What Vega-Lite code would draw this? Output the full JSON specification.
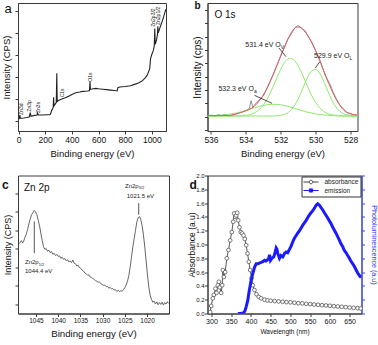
{
 "$schema": "https://vega.github.io/schema/vega-lite/v6.json",
 "padding": {"left": 0, "top": 0, "right": 0, "bottom": 0},
 "bounds": "flush",
 "columns": 2,
 "align": "each",
 "spacing": {"row": 44.5, "column": 38.5},
 "resolve": {"scale": {"color": "independent"}, "legend": {"color": "independent"}},
 "config": {
  "font": "Liberation Sans",
  "view": {"stroke": "#3a3a3a", "strokeWidth": 1},
  "axis": {"grid": false, "domainColor": "#3a3a3a", "tickColor": "#3a3a3a", "tickSize": 3, "labelColor": "#111", "titleColor": "#111", "titleFontWeight": "normal", "labelPadding": 1, "labelOverlap": false, "labelFlush": false}
 },
 "datasets": {
  "a_spec": [
   {"e":0,"v":0.10},{"e":5,"v":0.12},{"e":10,"v":0.28},{"e":14,"v":0.14},{"e":25,"v":0.14},{"e":40,"v":0.15},{"e":60,"v":0.17},{"e":80,"v":0.20},{"e":88,"v":0.40},{"e":94,"v":0.23},{"e":120,"v":0.27},{"e":138,"v":0.29},{"e":143,"v":0.38},{"e":148,"v":0.29},{"e":180,"v":0.29},{"e":210,"v":0.30},{"e":235,"v":0.30},{"e":242,"v":0.36},{"e":248,"v":0.50},{"e":255,"v":0.55},{"e":260,"v":0.64},{"e":263,"v":1.09},{"e":266,"v":0.70},{"e":275,"v":0.78},{"e":283,"v":0.85},{"e":287,"v":2.18},{"e":290,"v":0.90},{"e":300,"v":0.95},{"e":320,"v":1.00},{"e":350,"v":1.07},{"e":380,"v":1.15},{"e":400,"v":1.22},{"e":430,"v":1.30},{"e":460,"v":1.33},{"e":480,"v":1.36},{"e":500,"v":1.37},{"e":520,"v":1.38},{"e":532,"v":1.40},{"e":536,"v":1.82},{"e":539,"v":1.45},{"e":560,"v":1.48},{"e":580,"v":1.50},{"e":600,"v":1.48},{"e":630,"v":1.46},{"e":660,"v":1.44},{"e":690,"v":1.42},{"e":720,"v":1.40},{"e":740,"v":1.38},{"e":745,"v":1.53},{"e":760,"v":1.56},{"e":800,"v":1.58},{"e":840,"v":1.62},{"e":870,"v":1.68},{"e":900,"v":1.74},{"e":930,"v":1.85},{"e":950,"v":1.98},{"e":965,"v":2.10},{"e":975,"v":2.25},{"e":984,"v":2.40},{"e":990,"v":2.85},{"e":1000,"v":3.05},{"e":1010,"v":3.20},{"e":1018,"v":3.42},{"e":1022,"v":4.22},{"e":1025,"v":3.50},{"e":1035,"v":3.70},{"e":1042,"v":3.95},{"e":1045,"v":4.32},{"e":1048,"v":4.02},{"e":1060,"v":4.25},{"e":1075,"v":4.50},{"e":1090,"v":4.78},{"e":1100,"v":5.00},{"e":1105,"v":5.10}
  ],
  "a_labels": [
   {"e":20,"v":0.29,"t":"Zn3d"},{"e":82,"v":0.44,"t":"Zn3p"},{"e":145,"v":0.38,"t":"Zn3s"},{"e":325,"v":1.09,"t":"C1s"},{"e":538,"v":1.80,"t":"O1s"},{"e":1010,"v":4.30,"t":"Zn2p3/2"},{"e":1043,"v":4.38,"t":"Zn2p1/2"}
  ],
  "b_raw": [
   {"e":536.2,"v":1.05},{"e":536.0,"v":1.12},{"e":535.8,"v":1.02},{"e":535.6,"v":1.15},{"e":535.4,"v":1.08},{"e":535.2,"v":1.18},{"e":535.0,"v":1.05},{"e":534.8,"v":1.12},{"e":534.6,"v":1.20},{"e":534.4,"v":1.28},{"e":534.2,"v":1.35},{"e":534.0,"v":1.45},{"e":533.8,"v":1.62},{"e":533.7,"v":2.20},{"e":533.6,"v":1.70},{"e":533.4,"v":2.05},{"e":533.2,"v":2.30},{"e":533.0,"v":2.55},{"e":532.8,"v":3.10},{"e":532.6,"v":3.70},{"e":532.4,"v":4.25},{"e":532.2,"v":4.90},{"e":532.0,"v":5.60},{"e":531.8,"v":6.15},{"e":531.6,"v":6.80},{"e":531.4,"v":7.20},{"e":531.2,"v":7.65},{"e":531.0,"v":7.85},{"e":530.8,"v":7.60},{"e":530.6,"v":7.45},{"e":530.4,"v":6.95},{"e":530.2,"v":6.55},{"e":530.0,"v":5.95},{"e":529.8,"v":5.40},{"e":529.6,"v":4.65},{"e":529.4,"v":4.00},{"e":529.2,"v":3.50},{"e":529.0,"v":2.85},{"e":528.8,"v":2.30},{"e":528.6,"v":1.85},{"e":528.4,"v":1.60},{"e":528.2,"v":1.30},{"e":528.0,"v":1.25},{"e":527.8,"v":1.10},{"e":527.65,"v":1.15}
  ],
  "b_fit": [
   {"e":536.2,"v":1.08},{"e":535.0,"v":1.09},{"e":534.5,"v":1.22},{"e":534.1,"v":1.40},{"e":533.8,"v":1.55},{"e":533.5,"v":1.80},{"e":533.2,"v":2.25},{"e":532.9,"v":2.85},{"e":532.6,"v":3.65},{"e":532.3,"v":4.60},{"e":532.0,"v":5.55},{"e":531.7,"v":6.50},{"e":531.4,"v":7.30},{"e":531.1,"v":7.72},{"e":530.9,"v":7.72},{"e":530.6,"v":7.35},{"e":530.3,"v":6.75},{"e":530.0,"v":5.95},{"e":529.7,"v":5.00},{"e":529.4,"v":3.95},{"e":529.1,"v":3.05},{"e":528.8,"v":2.25},{"e":528.5,"v":1.65},{"e":528.2,"v":1.30},{"e":527.9,"v":1.18},{"e":527.65,"v":1.12}
  ],
  "b_comp": [
   {"c":"g1","e":536.2,"v":1.05},{"c":"g1","e":535.0,"v":1.05},{"c":"g1","e":534.5,"v":1.06},{"c":"g1","e":534.0,"v":1.10},{"c":"g1","e":533.75,"v":1.16},{"c":"g1","e":533.5,"v":1.29},{"c":"g1","e":533.25,"v":1.51},{"c":"g1","e":533.0,"v":1.87},{"c":"g1","e":532.75,"v":2.39},{"c":"g1","e":532.5,"v":3.07},{"c":"g1","e":532.25,"v":3.83},{"c":"g1","e":532.0,"v":4.56},{"c":"g1","e":531.75,"v":5.12},{"c":"g1","e":531.5,"v":5.38},{"c":"g1","e":531.25,"v":5.26},{"c":"g1","e":531.0,"v":4.81},{"c":"g1","e":530.75,"v":4.13},{"c":"g1","e":530.5,"v":3.37},{"c":"g1","e":530.25,"v":2.65},{"c":"g1","e":530.0,"v":2.06},{"c":"g1","e":529.75,"v":1.64},{"c":"g1","e":529.5,"v":1.36},{"c":"g1","e":529.25,"v":1.20},{"c":"g1","e":529.0,"v":1.12},{"c":"g1","e":528.5,"v":1.06},{"c":"g1","e":528.0,"v":1.05},{"c":"g1","e":527.6,"v":1.05},
   {"c":"g2","e":536.2,"v":1.05},{"c":"g2","e":533.0,"v":1.05},{"c":"g2","e":532.5,"v":1.05},{"c":"g2","e":532.25,"v":1.07},{"c":"g2","e":532.0,"v":1.10},{"c":"g2","e":531.75,"v":1.19},{"c":"g2","e":531.5,"v":1.39},{"c":"g2","e":531.25,"v":1.76},{"c":"g2","e":531.0,"v":2.33},{"c":"g2","e":530.75,"v":3.08},{"c":"g2","e":530.5,"v":3.85},{"c":"g2","e":530.25,"v":4.40},{"c":"g2","e":530.0,"v":4.54},{"c":"g2","e":529.75,"v":4.22},{"c":"g2","e":529.5,"v":3.55},{"c":"g2","e":529.25,"v":2.77},{"c":"g2","e":529.0,"v":2.08},{"c":"g2","e":528.75,"v":1.59},{"c":"g2","e":528.5,"v":1.29},{"c":"g2","e":528.25,"v":1.15},{"c":"g2","e":528.0,"v":1.08},{"c":"g2","e":527.6,"v":1.05},
   {"c":"g3","e":536.2,"v":1.06},{"c":"g3","e":535.5,"v":1.10},{"c":"g3","e":535.0,"v":1.17},{"c":"g3","e":534.5,"v":1.29},{"c":"g3","e":534.0,"v":1.46},{"c":"g3","e":533.5,"v":1.67},{"c":"g3","e":533.0,"v":1.84},{"c":"g3","e":532.5,"v":1.93},{"c":"g3","e":532.0,"v":1.89},{"c":"g3","e":531.5,"v":1.74},{"c":"g3","e":531.0,"v":1.54},{"c":"g3","e":530.5,"v":1.35},{"c":"g3","e":530.0,"v":1.21},{"c":"g3","e":529.5,"v":1.12},{"c":"g3","e":529.0,"v":1.08},{"c":"g3","e":528.5,"v":1.06},{"c":"g3","e":527.6,"v":1.05}
  ],
  "b_text": [
   {"e":532.0,"v":6.26,"t":"531.4 eV O","s":"V"},{"e":528.06,"v":5.4,"t":"529.9 eV O","s":"L"},{"e":533.54,"v":2.93,"t":"532.3 eV O","s":"a"}
  ],
  "b_lines": [
   {"e":532.1,"e2":531.7,"v":6.15,"v2":5.5},{"e":529.77,"e2":530.03,"v":5.12,"v2":4.63},{"e":533.5,"e2":532.5,"v":2.6,"v2":2.0}
  ],
  "c_spec": [
   {"e":1048.8,"v":3.30},{"e":1048.5,"v":3.36},{"e":1048.3,"v":3.45},{"e":1048.0,"v":3.32},{"e":1047.8,"v":3.40},{"e":1047.5,"v":3.62},{"e":1047.2,"v":3.78},{"e":1046.9,"v":4.05},{"e":1046.6,"v":4.35},{"e":1046.3,"v":4.62},{"e":1046.0,"v":4.85},{"e":1045.7,"v":4.95},{"e":1045.4,"v":5.08},{"e":1045.1,"v":5.00},{"e":1044.8,"v":4.85},{"e":1044.5,"v":4.55},{"e":1044.2,"v":4.25},{"e":1043.9,"v":3.85},{"e":1043.6,"v":3.45},{"e":1043.3,"v":3.12},{"e":1043.0,"v":2.98},{"e":1042.7,"v":3.02},{"e":1042.4,"v":2.88},{"e":1042.1,"v":2.93},{"e":1041.8,"v":2.80},{"e":1041.5,"v":2.86},{"e":1041.2,"v":2.72},{"e":1040.9,"v":2.76},{"e":1040.6,"v":2.64},{"e":1040.3,"v":2.70},{"e":1040.0,"v":2.60},{"e":1039.7,"v":2.62},{"e":1039.4,"v":2.50},{"e":1039.1,"v":2.55},{"e":1038.8,"v":2.44},{"e":1038.5,"v":2.48},{"e":1038.2,"v":2.36},{"e":1037.9,"v":2.42},{"e":1037.6,"v":2.30},{"e":1037.3,"v":2.35},{"e":1037.0,"v":2.26},{"e":1036.7,"v":2.40},{"e":1036.4,"v":2.22},{"e":1036.1,"v":2.20},{"e":1035.8,"v":2.08},{"e":1035.5,"v":2.12},{"e":1035.2,"v":1.98},{"e":1034.9,"v":1.95},{"e":1034.6,"v":1.85},{"e":1034.3,"v":1.80},{"e":1034.0,"v":1.70},{"e":1033.7,"v":1.66},{"e":1033.4,"v":1.58},{"e":1033.1,"v":1.60},{"e":1032.8,"v":1.48},{"e":1032.5,"v":1.45},{"e":1032.2,"v":1.40},{"e":1031.9,"v":1.35},{"e":1031.6,"v":1.28},{"e":1031.3,"v":1.26},{"e":1031.0,"v":1.20},{"e":1030.7,"v":1.22},{"e":1030.4,"v":1.12},{"e":1030.1,"v":1.08},{"e":1029.8,"v":1.04},{"e":1029.5,"v":1.05},{"e":1029.2,"v":0.96},{"e":1028.9,"v":0.98},{"e":1028.6,"v":0.88},{"e":1028.3,"v":0.92},{"e":1028.0,"v":0.84},{"e":1027.7,"v":0.86},{"e":1027.4,"v":0.78},{"e":1027.1,"v":0.80},{"e":1026.8,"v":0.70},{"e":1026.5,"v":0.76},{"e":1026.2,"v":0.70},{"e":1025.9,"v":0.74},{"e":1025.6,"v":0.72},{"e":1025.3,"v":0.80},{"e":1025.0,"v":0.90},{"e":1024.7,"v":1.05},{"e":1024.4,"v":1.25},{"e":1024.1,"v":1.55},{"e":1023.8,"v":2.00},{"e":1023.5,"v":2.55},{"e":1023.2,"v":3.10},{"e":1022.9,"v":3.55},{"e":1022.6,"v":4.00},{"e":1022.3,"v":4.45},{"e":1022.0,"v":4.68},{"e":1021.7,"v":4.75},{"e":1021.4,"v":4.58},{"e":1021.1,"v":4.25},{"e":1020.8,"v":3.75},{"e":1020.5,"v":3.10},{"e":1020.2,"v":2.35},{"e":1019.9,"v":1.60},{"e":1019.6,"v":0.95},{"e":1019.3,"v":0.50},{"e":1019.0,"v":0.28},{"e":1018.7,"v":0.12},{"e":1018.4,"v":0.18},{"e":1018.1,"v":0.02},{"e":1017.8,"v":0.14},{"e":1017.5,"v":-0.02},{"e":1017.2,"v":0.10},{"e":1016.9,"v":0.00},{"e":1016.6,"v":0.12},{"e":1016.3,"v":-0.03},{"e":1016.0,"v":0.10},{"e":1015.7,"v":0.02},{"e":1015.4,"v":0.15},{"e":1015.2,"v":0.06}
  ],
  "c_small": [
   {"e":1047.48,"v":2.16,"t":"Zn2p"},{"e":1047.48,"v":1.70,"t":"1044.4 eV"},{"e":1024.95,"v":6.30,"t":"Zn2p"},{"e":1024.57,"v":5.76,"t":"1021.5 eV"}
  ],
  "c_sub": [
   {"e":1044.4,"v":2.16,"t":"1/2"},{"e":1021.87,"v":6.30,"t":"3/2"}
  ],
  "c_lines": [
   {"e":1045.38,"v":4.49,"v2":2.77},{"e":1021.87,"v":5.48,"v2":4.85}
  ],
  "d_abs": [
   {"w":296.8,"v":0.02,"s":"absorbance"},{"w":299.3,"v":0.11,"s":"absorbance"},{"w":303.5,"v":0.22,"s":"absorbance"},{"w":306,"v":0.27,"s":"absorbance"},{"w":310.3,"v":0.36,"s":"absorbance"},{"w":312.8,"v":0.30,"s":"absorbance"},{"w":316.2,"v":0.41,"s":"absorbance"},{"w":318.7,"v":0.46,"s":"absorbance"},{"w":321.2,"v":0.38,"s":"absorbance"},{"w":324.6,"v":0.30,"s":"absorbance"},{"w":327.2,"v":0.41,"s":"absorbance"},{"w":328.8,"v":0.63,"s":"absorbance"},{"w":331.3,"v":0.53,"s":"absorbance"},{"w":334.8,"v":0.60,"s":"absorbance"},{"w":338.9,"v":0.80,"s":"absorbance"},{"w":343.2,"v":0.92,"s":"absorbance"},{"w":347.4,"v":1.06,"s":"absorbance"},{"w":351.6,"v":1.18,"s":"absorbance"},{"w":355,"v":1.33,"s":"absorbance"},{"w":357.6,"v":1.45,"s":"absorbance"},{"w":360.1,"v":1.40,"s":"absorbance"},{"w":362.6,"v":1.42,"s":"absorbance"},{"w":365.2,"v":1.46,"s":"absorbance"},{"w":367.7,"v":1.35,"s":"absorbance"},{"w":371,"v":1.25,"s":"absorbance"},{"w":374.4,"v":1.18,"s":"absorbance"},{"w":377.8,"v":1.16,"s":"absorbance"},{"w":381.1,"v":1.13,"s":"absorbance"},{"w":384.4,"v":1.08,"s":"absorbance"},{"w":388,"v":0.99,"s":"absorbance"},{"w":391.3,"v":0.87,"s":"absorbance"},{"w":394.6,"v":0.75,"s":"absorbance"},{"w":398.1,"v":0.63,"s":"absorbance"},{"w":401.4,"v":0.51,"s":"absorbance"},{"w":404.7,"v":0.41,"s":"absorbance"},{"w":409,"v":0.34,"s":"absorbance"},{"w":414,"v":0.28,"s":"absorbance"},{"w":419.9,"v":0.24,"s":"absorbance"},{"w":425.9,"v":0.22,"s":"absorbance"},{"w":434.3,"v":0.20,"s":"absorbance"},{"w":442,"v":0.19,"s":"absorbance"},{"w":450,"v":0.185,"s":"absorbance"},{"w":460,"v":0.18,"s":"absorbance"},{"w":470,"v":0.175,"s":"absorbance"},{"w":480,"v":0.17,"s":"absorbance"},{"w":490,"v":0.165,"s":"absorbance"},{"w":500,"v":0.162,"s":"absorbance"},{"w":510,"v":0.156,"s":"absorbance"},{"w":520,"v":0.15,"s":"absorbance"},{"w":530,"v":0.147,"s":"absorbance"},{"w":540,"v":0.14,"s":"absorbance"},{"w":550,"v":0.136,"s":"absorbance"},{"w":560,"v":0.13,"s":"absorbance"},{"w":570,"v":0.126,"s":"absorbance"},{"w":580,"v":0.12,"s":"absorbance"},{"w":590,"v":0.117,"s":"absorbance"},{"w":600,"v":0.112,"s":"absorbance"},{"w":610,"v":0.106,"s":"absorbance"},{"w":620,"v":0.101,"s":"absorbance"},{"w":630,"v":0.097,"s":"absorbance"},{"w":640,"v":0.092,"s":"absorbance"},{"w":650,"v":0.087,"s":"absorbance"},{"w":660,"v":0.082,"s":"absorbance"},{"w":670,"v":0.077,"s":"absorbance"},{"w":678,"v":0.073,"s":"absorbance"}
  ],
  "d_em": [
   {"w":366.8,"v":0.0,"s":"emission"},{"w":375,"v":0.0,"s":"emission"},{"w":382,"v":0.01,"s":"emission"},{"w":385,"v":0.04,"s":"emission"},{"w":388,"v":0.10,"s":"emission"},{"w":392,"v":0.19,"s":"emission"},{"w":396,"v":0.34,"s":"emission"},{"w":400.6,"v":0.48,"s":"emission"},{"w":404.7,"v":0.58,"s":"emission"},{"w":409,"v":0.67,"s":"emission"},{"w":413.3,"v":0.72,"s":"emission"},{"w":417.3,"v":0.72,"s":"emission"},{"w":421,"v":0.73,"s":"emission"},{"w":425.9,"v":0.74,"s":"emission"},{"w":430,"v":0.75,"s":"emission"},{"w":434.3,"v":0.77,"s":"emission"},{"w":438,"v":0.76,"s":"emission"},{"w":442.7,"v":0.78,"s":"emission"},{"w":445,"v":0.80,"s":"emission"},{"w":447,"v":0.85,"s":"emission"},{"w":449.5,"v":0.77,"s":"emission"},{"w":453,"v":0.80,"s":"emission"},{"w":457.8,"v":0.82,"s":"emission"},{"w":461,"v":0.88,"s":"emission"},{"w":463.9,"v":0.95,"s":"emission"},{"w":466,"v":0.93,"s":"emission"},{"w":468,"v":0.87,"s":"emission"},{"w":472.3,"v":0.80,"s":"emission"},{"w":476,"v":0.84,"s":"emission"},{"w":478.1,"v":0.83,"s":"emission"},{"w":480.7,"v":0.82,"s":"emission"},{"w":485,"v":0.87,"s":"emission"},{"w":489.2,"v":0.89,"s":"emission"},{"w":493,"v":0.88,"s":"emission"},{"w":497.6,"v":0.93,"s":"emission"},{"w":502,"v":0.98,"s":"emission"},{"w":506,"v":1.04,"s":"emission"},{"w":510,"v":1.09,"s":"emission"},{"w":514.6,"v":1.13,"s":"emission"},{"w":518,"v":1.16,"s":"emission"},{"w":522.9,"v":1.20,"s":"emission"},{"w":527,"v":1.24,"s":"emission"},{"w":531.3,"v":1.28,"s":"emission"},{"w":535,"v":1.31,"s":"emission"},{"w":539.9,"v":1.35,"s":"emission"},{"w":544,"v":1.39,"s":"emission"},{"w":548.2,"v":1.43,"s":"emission"},{"w":552,"v":1.46,"s":"emission"},{"w":556.6,"v":1.49,"s":"emission"},{"w":561,"v":1.53,"s":"emission"},{"w":565.2,"v":1.57,"s":"emission"},{"w":569.2,"v":1.59,"s":"emission"},{"w":573.5,"v":1.57,"s":"emission"},{"w":577,"v":1.54,"s":"emission"},{"w":581.9,"v":1.50,"s":"emission"},{"w":586,"v":1.46,"s":"emission"},{"w":590.5,"v":1.42,"s":"emission"},{"w":595,"v":1.38,"s":"emission"},{"w":598.9,"v":1.34,"s":"emission"},{"w":603,"v":1.30,"s":"emission"},{"w":607.2,"v":1.25,"s":"emission"},{"w":611,"v":1.21,"s":"emission"},{"w":615.8,"v":1.16,"s":"emission"},{"w":620,"v":1.11,"s":"emission"},{"w":624.2,"v":1.06,"s":"emission"},{"w":628,"v":1.01,"s":"emission"},{"w":632.5,"v":0.97,"s":"emission"},{"w":636,"v":0.92,"s":"emission"},{"w":641.1,"v":0.88,"s":"emission"},{"w":645,"v":0.84,"s":"emission"},{"w":649.5,"v":0.80,"s":"emission"},{"w":653,"v":0.76,"s":"emission"},{"w":657.8,"v":0.72,"s":"emission"},{"w":662,"v":0.68,"s":"emission"},{"w":666.4,"v":0.63,"s":"emission"},{"w":670,"v":0.59,"s":"emission"},{"w":674.8,"v":0.55,"s":"emission"},{"w":679,"v":0.52,"s":"emission"}
  ]
 },
 "concat": [
  {
   "width": 148, "height": 128,
   "layer": [
    {"data": {"name": "a_spec"}, "mark": {"type": "line", "color": "#222", "strokeWidth": 1.1, "clip": true},
     "encoding": {
      "x": {"field": "e", "type": "quantitative", "title": "Binding energy (eV)", "scale": {"domain": [-4, 1106], "nice": false, "zero": false}, "axis": {"values": [0, 200, 400, 600, 800, 1000], "tickCount": 40, "format": "d", "labelOverlap": false, "labelFontSize": 8.5, "titleFontSize": 9.5, "titlePadding": 5}},
      "y": {"field": "v", "type": "quantitative", "title": "Intensity (CPS)", "scale": {"domain": [-0.44, 5.38], "nice": false, "zero": false}, "axis": {"values": [0, 1, 2, 3, 4, 5], "tickCount": 40, "labels": false, "titleFontSize": 9.5, "titleX": -9, "titleBaseline": "alphabetic"}}
     }},
    {"data": {"name": "a_labels"}, "mark": {"type": "text", "angle": 270, "align": "left", "baseline": "middle", "fontSize": 5, "color": "#222"},
     "encoding": {
      "x": {"field": "e", "type": "quantitative", "title": "Binding energy (eV)"},
      "y": {"field": "v", "type": "quantitative", "title": "Intensity (CPS)"},
      "text": {"field": "t"}
     }},
    {"data": {"values": [{"e": -105, "v": 4.92, "t": "a"}]}, "mark": {"type": "text", "align": "left", "baseline": "alphabetic", "fontSize": 13, "color": "#111"},
     "encoding": {
      "x": {"field": "e", "type": "quantitative", "title": "Binding energy (eV)"},
      "y": {"field": "v", "type": "quantitative", "title": "Intensity (CPS)"},
      "text": {"field": "t"}
     }}
   ]
  },
  {
   "width": 150, "height": 128,
   "layer": [
    {"data": {"name": "b_raw"}, "mark": {"type": "line", "color": "#777", "strokeWidth": 0.8, "clip": true},
     "encoding": {
      "x": {"field": "e", "type": "quantitative", "title": "Binding energy (eV)", "scale": {"domain": [536.2, 527.6], "nice": false, "zero": false}, "axis": {"values": [536, 534, 532, 530, 528], "tickCount": 40, "format": "d", "labelOverlap": false, "labelFontSize": 8.5, "titleFontSize": 9.5, "titlePadding": 5}},
      "y": {"field": "v", "type": "quantitative", "title": "Intensity (cps)", "scale": {"domain": [-0.075, 9.53], "nice": false, "zero": false}, "axis": {"values": [0, 1, 2, 3, 4, 5, 6, 7, 8, 9], "tickCount": 40, "labels": false, "titleFontSize": 10, "titleX": -7.5, "titleBaseline": "alphabetic"}}
     }},
    {"data": {"name": "b_comp"}, "mark": {"type": "line", "color": "#8ee86c", "strokeWidth": 1, "interpolate": "monotone", "clip": true},
     "encoding": {
      "x": {"field": "e", "type": "quantitative", "title": "Binding energy (eV)"},
      "y": {"field": "v", "type": "quantitative", "title": "Intensity (cps)"},
      "detail": {"field": "c"}
     }},
    {"data": {"name": "b_fit"}, "mark": {"type": "line", "color": "#dd5c5c", "strokeWidth": 1, "interpolate": "monotone", "clip": true},
     "encoding": {
      "x": {"field": "e", "type": "quantitative", "title": "Binding energy (eV)"},
      "y": {"field": "v", "type": "quantitative", "title": "Intensity (cps)"}
     }},
    {"data": {"name": "b_lines"}, "mark": {"type": "rule", "color": "#222", "strokeWidth": 0.8},
     "encoding": {
      "x": {"field": "e", "type": "quantitative", "title": "Binding energy (eV)"},
      "x2": {"field": "e2"},
      "y": {"field": "v", "type": "quantitative", "title": "Intensity (cps)"},
      "y2": {"field": "v2"}
     }},
    {"data": {"name": "b_text"}, "mark": {"type": "text", "align": "right", "baseline": "alphabetic", "fontSize": 7, "color": "#222"},
     "encoding": {
      "x": {"field": "e", "type": "quantitative", "title": "Binding energy (eV)"},
      "y": {"field": "v", "type": "quantitative", "title": "Intensity (cps)"},
      "text": {"field": "t"}
     }},
    {"data": {"name": "b_text"}, "mark": {"type": "text", "align": "left", "baseline": "alphabetic", "fontSize": 5, "dy": 2, "color": "#222"},
     "encoding": {
      "x": {"field": "e", "type": "quantitative", "title": "Binding energy (eV)"},
      "y": {"field": "v", "type": "quantitative", "title": "Intensity (cps)"},
      "text": {"field": "s"}
     }},
    {"data": {"values": [{"e": 535.8, "v": 8.4, "t": "O 1s"}]}, "mark": {"type": "text", "align": "left", "baseline": "alphabetic", "fontSize": 10, "color": "#111"},
     "encoding": {
      "x": {"field": "e", "type": "quantitative", "title": "Binding energy (eV)"},
      "y": {"field": "v", "type": "quantitative", "title": "Intensity (cps)"},
      "text": {"field": "t"}
     }},
    {"data": {"values": [{"e": 536.95, "v": 9.11, "t": "b"}]}, "mark": {"type": "text", "align": "left", "baseline": "alphabetic", "fontSize": 10, "fontWeight": "bold", "color": "#111"},
     "encoding": {
      "x": {"field": "e", "type": "quantitative", "title": "Binding energy (eV)"},
      "y": {"field": "v", "type": "quantitative", "title": "Intensity (cps)"},
      "text": {"field": "t"}
     }}
   ]
  },
  {
   "width": 151, "height": 138,
   "layer": [
    {"data": {"name": "c_spec"}, "mark": {"type": "line", "color": "#555", "strokeWidth": 0.9, "clip": true},
     "encoding": {
      "x": {"field": "e", "type": "quantitative", "title": "Binding energy (eV)", "scale": {"domain": [1049.05, 1015.05], "nice": false, "zero": false}, "axis": {"values": [1045, 1040, 1035, 1030, 1025, 1020], "tickCount": 40, "format": "d", "labelOverlap": false, "labelFontSize": 6.5, "titleFontSize": 9.7, "titlePadding": 4}},
      "y": {"field": "v", "type": "quantitative", "title": "Intensity (CPS)", "scale": {"domain": [-0.49, 6.97], "nice": false, "zero": false}, "axis": {"values": [0, 1, 2, 3, 4, 5, 6], "tickCount": 40, "labels": false, "titleFontSize": 9, "titleX": -7.5, "titleBaseline": "alphabetic"}}
     }},
    {"data": {"name": "c_lines"}, "mark": {"type": "rule", "color": "#444", "strokeWidth": 0.9},
     "encoding": {
      "x": {"field": "e", "type": "quantitative", "title": "Binding energy (eV)"},
      "y": {"field": "v", "type": "quantitative", "title": "Intensity (CPS)"},
      "y2": {"field": "v2"}
     }},
    {"data": {"values": [{"e": 1047.7, "v": 6.11, "t": "Zn 2p"}]}, "mark": {"type": "text", "align": "left", "baseline": "alphabetic", "fontSize": 10, "color": "#111"},
     "encoding": {
      "x": {"field": "e", "type": "quantitative", "title": "Binding energy (eV)"},
      "y": {"field": "v", "type": "quantitative", "title": "Intensity (CPS)"},
      "text": {"field": "t"}
     }},
    {"data": {"name": "c_small"}, "mark": {"type": "text", "align": "left", "baseline": "alphabetic", "fontSize": 6, "color": "#222"},
     "encoding": {
      "x": {"field": "e", "type": "quantitative", "title": "Binding energy (eV)"},
      "y": {"field": "v", "type": "quantitative", "title": "Intensity (CPS)"},
      "text": {"field": "t"}
     }},
    {"data": {"name": "c_sub"}, "mark": {"type": "text", "align": "left", "baseline": "alphabetic", "fontSize": 4, "dy": 1.5, "color": "#222"},
     "encoding": {
      "x": {"field": "e", "type": "quantitative", "title": "Binding energy (eV)"},
      "y": {"field": "v", "type": "quantitative", "title": "Intensity (CPS)"},
      "text": {"field": "t"}
     }},
    {"data": {"values": [{"e": 1052.65, "v": 6.22, "t": "c"}]}, "mark": {"type": "text", "align": "left", "baseline": "alphabetic", "fontSize": 12, "fontWeight": "bold", "color": "#111"},
     "encoding": {
      "x": {"field": "e", "type": "quantitative", "title": "Binding energy (eV)"},
      "y": {"field": "v", "type": "quantitative", "title": "Intensity (CPS)"},
      "text": {"field": "t"}
     }}
   ]
  },
  {
   "width": 154, "height": 138,
   "resolve": {"scale": {"y": "independent"}},
   "layer": [
    {
     "layer": [
      {"data": {"name": "d_abs"}, "mark": {"type": "line", "strokeWidth": 0.9, "clip": true},
       "encoding": {
        "x": {"field": "w", "type": "quantitative", "title": "Wavelength (nm)", "scale": {"domain": [290, 680], "nice": false, "zero": false}, "axis": {"values": [300, 350, 400, 450, 500, 550, 600, 650], "tickCount": 40, "format": "d", "labelOverlap": false, "labelFontSize": 7, "titleFontSize": 6.5, "titlePadding": 4}},
        "y": {"field": "v", "type": "quantitative", "title": "Absorbance (a.u)", "scale": {"domain": [0, 2], "nice": false, "zero": false}, "axis": {"values": [0, 0.2, 0.4, 0.6, 0.8, 1.0, 1.2, 1.4, 1.6, 1.8, 2.0], "tickCount": 40, "format": ".1f", "labelOverlap": false, "labelFontSize": 6, "labelPadding": 0.5, "titleFontSize": 8.5, "titleX": -13, "titleBaseline": "alphabetic"}},
        "color": {"field": "s", "type": "nominal", "scale": {"domain": ["absorbance", "emission"], "range": ["#444444", "#1a1aff"]},
         "legend": {"title": null, "orient": "top-right", "offset": 1, "padding": 1.5, "strokeColor": "#333", "fillColor": "white", "labelFontSize": 6.5, "labelColor": "#222", "symbolSize": 49, "rowPadding": 0.5, "symbolOffset": 4, "labelOffset": 9.5, "symbolStrokeWidth": 1,
          "encode": {"symbols": {"update": {
           "shape": {"signal": "datum.value === 'absorbance' ? 'M-2.15,0H-0.5M0.5,0H2.15M0.5,0A0.5,0.5,0,1,1,-0.5,0A0.5,0.5,0,1,1,0.5,0' : 'M-2.15,0H2.15M-0.45,-0.45H0.45V0.45H-0.45Z'"},
           "fill": {"signal": "datum.value === 'absorbance' ? 'white' : '#1a1aff'"}
          }}}}}
       }},
      {"data": {"name": "d_abs"}, "mark": {"type": "point", "shape": "circle", "size": 14, "filled": true, "fill": "white", "stroke": "#555", "strokeWidth": 0.8, "opacity": 1},
       "encoding": {
        "x": {"field": "w", "type": "quantitative", "title": "Wavelength (nm)"},
        "y": {"field": "v", "type": "quantitative", "title": "Absorbance (a.u)"}
       }},
      {"data": {"values": [{"w": 244.4, "v": 1.80, "t": "d"}]}, "mark": {"type": "text", "align": "left", "baseline": "alphabetic", "fontSize": 12, "fontWeight": "bold", "color": "#111"},
       "encoding": {
        "x": {"field": "w", "type": "quantitative", "title": "Wavelength (nm)"},
        "y": {"field": "v", "type": "quantitative", "title": "Absorbance (a.u)"},
        "text": {"field": "t"}
       }}
     ]
    },
    {"data": {"name": "d_em"}, "mark": {"type": "line", "strokeWidth": 3, "clip": true},
     "encoding": {
      "x": {"field": "w", "type": "quantitative", "title": "Wavelength (nm)"},
      "y": {"field": "v", "type": "quantitative", "title": "Photoluminescence (a.u)", "scale": {"domain": [0, 2], "nice": false, "zero": false}, "axis": {"orient": "right", "values": [0, 0.2, 0.4, 0.6, 0.8, 1.0, 1.2, 1.4, 1.6, 1.8, 2.0], "tickCount": 40, "labels": false, "domainColor": "#3344ff", "tickColor": "#3344ff", "titleColor": "#2233ff", "titleFontSize": 7.2, "titleAngle": 90, "titleX": 9.5, "titleBaseline": "alphabetic"}},
      "color": {"field": "s", "type": "nominal"}
     }}
   ]
  }
 ]
}
